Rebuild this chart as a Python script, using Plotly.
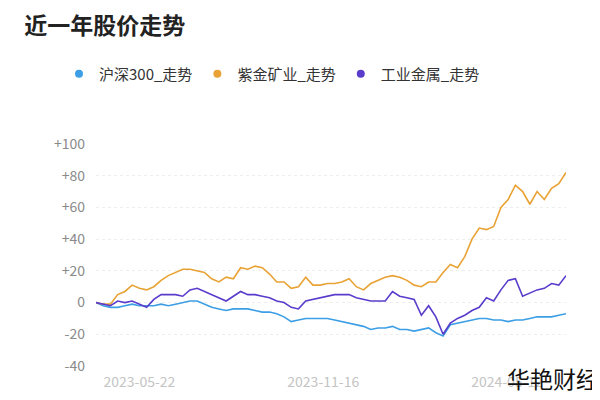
import pandas as pd
import plotly.graph_objects as go

# weekly samples (% change vs start)
start_date = "2023-04-10"
hs300 = [0, -2, -3, -3, -2, -1, -2, -2, -2, -1, -2, -1, 0, 1, 1, -1, -3, -4, -5, -4,
         -4, -4, -5, -6, -6, -7, -9, -12, -11, -10, -10, -10, -10, -11, -12, -13, -14, -15, -17, -16,
         -16, -15, -17, -17, -18, -17, -16, -19, -21, -14, -13, -12, -11, -10, -10, -11, -11, -12, -11, -11,
         -10, -9, -9, -9, -8, -7]
zijin = [0, -1, -1, 5, 7, 11, 9, 8, 10, 14, 17, 19, 21, 21, 20, 19, 15, 13, 16, 15,
         22, 21, 23, 22, 18, 13, 13, 9, 10, 16, 11, 11, 12, 12, 13, 15, 10, 8, 12, 14,
         16, 17, 16, 14, 11, 10, 13, 13, 19, 24, 22, 29, 40, 47, 46, 48, 60, 65, 74, 70,
         62, 70, 65, 72, 75, 82]
metals = [0, -1, -2, 1, 0, 1, -1, -3, 2, 5, 5, 5, 4, 8, 9, 7, 5, 3, 1, 4,
          7, 5, 5, 4, 3, 1, 0, -3, -4, 1, 2, 3, 4, 5, 5, 5, 3, 2, 1, 1,
          1, 7, 4, 3, 2, -8, -2, -9, -20, -13, -10, -8, -5, -3, 3, 1, 8, 14, 15, 4,
          6, 8, 9, 12, 11, 17]
tick_dates = ["2023-05-22", "2023-11-16", "2024-05-12"]
y_ticks = [100, 80, 60, 40, 20, 0, -20, -40]

dates = pd.date_range(start_date, periods=len(hs300), freq="7D")
font = "Noto Sans CJK SC"

fig = go.Figure()
for name, vals, color in [("沪深300_走势", hs300, "#3c9ee5"),
                          ("紫金矿业_走势", zijin, "#e9a234"),
                          ("工业金属_走势", metals, "#5a3ccc")]:
    fig.add_trace(go.Scatter(x=dates, y=vals, name=name, mode="lines", showlegend=False,
                             line=dict(color=color, width=1.6)))
    # dot-style legend entry
    fig.add_trace(go.Scatter(x=[None], y=[None], name=name, mode="markers",
                             marker=dict(color=color, size=8)))

# page has an 8px body margin, so offsets are compensated
fig.update_layout(
    width=600, height=400,
    margin=dict(l=88, r=42, t=136, b=42, autoexpand=False),
    paper_bgcolor="white", plot_bgcolor="white",
    font=dict(family=font, color="#8a8a8a", size=14),
    title=dict(text="<b>近一年股价走势</b>", x=0.027, xanchor="left", y=0.975, yanchor="top",
               font=dict(size=23, color="#222222", family=font)),
    legend=dict(orientation="h", x=0.085, xref="container", y=0.835, yref="container",
                xanchor="left", yanchor="middle",
                font=dict(size=15, color="#333333"), itemwidth=30, tracegroupgap=0),
)
fig.update_xaxes(range=[dates[0], dates[-1]], tickvals=pd.to_datetime(tick_dates),
                 ticktext=tick_dates, showgrid=False, showline=False, ticks="",
                 tickfont=dict(color="#c4c4c4"), ticklabelstandoff=6)
fig.update_yaxes(range=[-40, 100], tickvals=y_ticks,
                 ticktext=[("+%d" % v) if v > 0 else str(v) for v in y_ticks],
                 gridcolor="#eeeeee", griddash="dot", zeroline=False, ticks="",
                 ticklabelstandoff=10)
fig.add_annotation(text="华艳财经", xref="paper", yref="paper", x=1.075, y=-0.14,
                   xanchor="right", yanchor="bottom", showarrow=False,
                   font=dict(size=23, color="#111111", family=font))
fig.write_html("out.html")
